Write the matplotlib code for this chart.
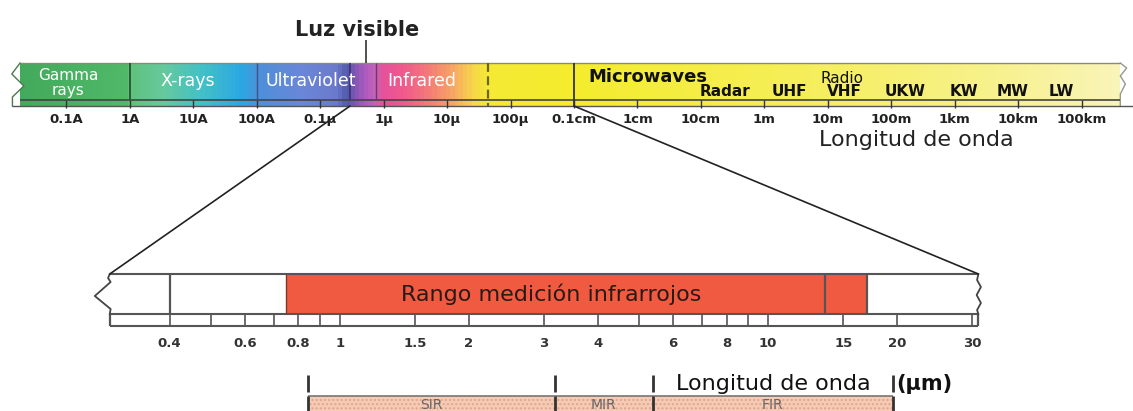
import numpy as np
import matplotlib.pyplot as plt
from matplotlib.colors import LinearSegmentedColormap
from matplotlib.patches import Rectangle, Polygon, ConnectionPatch

plt.rcParams['font.family'] = ['DejaVu Sans']

W, H = 1133, 411

# --- espectro superior: exponente de la longitud de onda (m) ---
top_exp = list(range(-11, 6))
top_labels = ['0.1A', '1A', '1UA', '100A', '0.1µ', '1µ', '10µ', '100µ',
              '0.1cm', '1cm', '10cm', '1m', '10m', '100m', '1km', '10km', '100km']

spec_start, spec_end = -11.73, 5.61
# limites: gamma|X, X|UV, UV|visible, visible|IR, IR (discontinua), microondas
edge_gx, edge_xuv, edge_uvvis, edge_visir, edge_ir, edge_micro = -10.0, -8.0, -6.53, -6.12, -4.36, -3.0

color_stops = [
    (-11.73, '#43a95c'), (-10.1, '#4fb968'), (-10.0, '#5ec27e'), (-9.5, '#66c99c'),
    (-8.9, '#43c1c6'), (-8.25, '#2aa7e2'), (-8.0, '#4d8fd9'), (-7.3, '#6a86d8'),
    (-6.75, '#6b79cc'), (-6.58, '#4f56a8'), (-6.45, '#8556b6'), (-6.28, '#b25abf'),
    (-6.12, '#c466b8'), (-6.05, '#e4509c'), (-5.7, '#f0598c'), (-5.3, '#f47a78'),
    (-4.9, '#f7a862'), (-4.6, '#f7d64a'), (-4.36, '#f5e935'), (-3.0, '#f4ec2c'),
    (0.5, '#f5ee58'), (3.7, '#f7f18e'), (5.61, '#f9f4b8'),
]

white_bands = ['X-rays', 'Ultraviolet', 'Infrared']
white_exp = [-9.08, -7.15, -5.40]
gamma_exp = -10.97
radio_bands = ['Radar', 'UHF', 'VHF', 'UKW', 'KW', 'MW', 'LW']
radio_exp = [-0.62, 0.40, 1.26, 2.22, 3.15, 3.92, 4.68]
micro_exp = -2.78
radio_title_exp = 1.22
luz_exp = -6.28
longitud_top_exp = 2.39

# --- escala inferior (µm) ---
low_ticks = [0.4, 0.5, 0.6, 0.7, 0.8, 0.9, 1, 1.5, 2, 3, 4, 5, 6, 7, 8, 9, 10, 15, 20, 30]
low_labels = [0.4, 0.6, 0.8, 1, 1.5, 2, 3, 4, 6, 8, 10, 15, 20, 30]
low_start, low_end = 0.29, 31.0
white_split = 0.4
ir_start, ir_split, ir_end = 0.75, 13.6, 17.0
rango_x = 3.11

regions = ['SIR', 'MIR', 'FIR']
region_edges = [0.842, 3.18, 5.38, 19.6]

fig = plt.figure(figsize=(W / 100, H / 100), dpi=100)
fig.patch.set_facecolor('white')
ax_top = fig.add_axes([0, 0, 1, 1])
ax_bot = fig.add_axes([0, 0, 1, 1])
for ax in (ax_top, ax_bot):
    ax.set_xscale('log')
    ax.set_ylim(H, 0)
    ax.axis('off')
ax_top.set_xlim(10 ** -12.046, 10 ** 5.810)
ax_bot.set_xlim(10 ** -0.794, 10 ** 1.8526)

# ---------------- barra del espectro ----------------
y_top, y_mid, y_bot = 63, 100, 106
span = spec_end - spec_start
cmap = LinearSegmentedColormap.from_list(
    'spec', [((e - spec_start) / span, c) for e, c in color_stops])
xe = np.linspace(spec_start, spec_end, 900)
cval = ((xe[:-1] + xe[1:]) / 2 - spec_start) / span
mesh = ax_top.pcolormesh(10 ** xe, [y_top, y_bot], cval[np.newaxis, :],
                         cmap=cmap, vmin=0, vmax=1, shading='flat')

zl = [(0.0, y_top), (-0.13, 74), (0.06, 86), (-0.12, 97), (-0.12, y_bot)]
zr = [(0.0, y_bot), (0.0, 94), (0.08, 84), (0.0, 76), (0.1, 68), (0.0, y_top)]
outline = [(10 ** (spec_start + dx), y) for dx, y in zl] + \
          [(10 ** (spec_end + dx), y) for dx, y in zr]
clip = Polygon(outline, closed=True, transform=ax_top.transData,
               facecolor='none', edgecolor='none')
ax_top.add_patch(clip)
mesh.set_clip_path(clip)
ax_top.plot([p[0] for p in outline[:5]], [p[1] for p in outline[:5]], color='#4a7a50', lw=1)
ax_top.plot([p[0] for p in outline[5:]], [p[1] for p in outline[5:]], color='#999988', lw=1)

ax_top.hlines(y_top, 10 ** spec_start, 10 ** spec_end, color='#8a8a7a', lw=1)
ax_top.hlines(y_mid, 10 ** spec_start, 10 ** spec_end, color='#444444', lw=1.2)
ax_top.hlines(y_bot, 10 ** (spec_start - 0.12), 10 ** 5.81, color='#555555', lw=1)

ax_top.vlines(10 ** edge_gx, y_top, y_mid, color='#2e5a36', lw=1.4)
ax_top.vlines(10 ** edge_xuv, y_top, y_mid, color='#3c5488', lw=1)
ax_top.vlines(10 ** edge_uvvis, y_top, y_mid, color='#3b3a7a', lw=1.4)
ax_top.vlines(10 ** edge_visir, y_top, y_mid, color='#6a3a6a', lw=1)
ax_top.vlines(10 ** edge_ir, y_top, y_bot, color='#6b6520', lw=1.6, linestyles=(0, (4, 2)))
ax_top.vlines(10 ** edge_micro, y_top, y_bot, color='#333333', lw=1.3)

ax_top.vlines(10.0 ** np.array(top_exp), y_mid, y_bot + 2, color='#333333', lw=1)
for e, lab in zip(top_exp, top_labels):
    ax_top.text(10.0 ** e, 123, lab, ha='center', va='baseline', fontsize=9.5,
                fontweight='bold', color='#222222')

ax_top.text(10 ** gamma_exp, 80, 'Gamma', ha='center', va='baseline', fontsize=11, color='white')
ax_top.text(10 ** gamma_exp, 95, 'rays', ha='center', va='baseline', fontsize=11, color='white')
for e, lab in zip(white_exp, white_bands):
    ax_top.text(10 ** e, 86, lab, ha='center', va='baseline', fontsize=12.5, color='white')

ax_top.text(10 ** micro_exp, 82, 'Microwaves', ha='left', va='baseline', fontsize=13,
            fontweight='bold', color='#111111')
ax_top.text(10 ** radio_title_exp, 83, 'Radio', ha='center', va='baseline', fontsize=11,
            color='#111111')
for e, lab in zip(radio_exp, radio_bands):
    ax_top.text(10 ** e, 96, lab, ha='center', va='baseline', fontsize=11,
                fontweight='bold', color='#111111')

ax_top.vlines(10 ** luz_exp, 40, y_top, color='#333333', lw=1.2)
ax_top.text(10 ** (luz_exp - 0.14), 36, 'Luz visible', ha='center', va='baseline',
            fontsize=15, fontweight='bold', color='#222222')
ax_top.text(10 ** longitud_top_exp, 146, 'Longitud de onda', ha='center', va='baseline',
            fontsize=16, color='#222222')

# ---------------- barra ampliada (µm) ----------------
b_top, b_mid, b_bot = 274, 314, 326
ax_bot.add_patch(Rectangle((ir_start, b_top), ir_end - ir_start, b_mid - b_top,
                           facecolor='#ef5a40', edgecolor='none'))
ax_bot.hlines([b_top, b_mid, b_bot], low_start, low_end, color='#555555', lw=1.5)
ax_bot.vlines([white_split, ir_split, ir_end], b_top, b_mid, color='#555555', lw=1.6)
ax_bot.vlines(ir_start, b_top, b_mid, color='#7a3a30', lw=1)
ax_bot.vlines([low_start, low_end], b_mid, b_bot, color='#555555', lw=1.6)
ax_bot.vlines(low_ticks, b_mid, b_bot, color='#555555', lw=1.2)

zz_l = [(0.0, b_top), (-0.004, 278), (0.002, 282), (-0.035, 296), (0.002, 309), (0.0, b_mid)]
zz_r = [(0.0, b_top), (-0.003, 280), (0.006, 287), (-0.004, 295), (0.006, 303), (-0.003, 310), (0.0, b_mid)]
ax_bot.plot([low_start * 10 ** dx for dx, y in zz_l], [y for dx, y in zz_l], color='#444444', lw=1.3)
ax_bot.plot([low_end * 10 ** dx for dx, y in zz_r], [y for dx, y in zz_r], color='#444444', lw=1.3)

for v in low_labels:
    ax_bot.text(v, 347, f'{v:g}', ha='center', va='baseline', fontsize=9.5,
                fontweight='bold', color='#333333')

ax_bot.text(rango_x, 294, 'Rango medición infrarrojos', ha='center', va='center',
            fontsize=16, color='#2a1a15')

# conectores (zoom)
for xa, xb in [(10 ** edge_uvvis, low_start), (10 ** edge_micro, low_end)]:
    con = ConnectionPatch(xyA=(xa, y_bot), coordsA=ax_top.transData,
                          xyB=(xb, b_top), coordsB=ax_bot.transData,
                          color='#222222', lw=1.2)
    fig.add_artist(con)

# ---------------- SIR / MIR / FIR ----------------
r_top = 396
for i, name in enumerate(regions):
    x0, x1 = region_edges[i], region_edges[i + 1]
    ax_bot.add_patch(Rectangle((x0, r_top), x1 - x0, 20, facecolor='#f6cbb6',
                               edgecolor='#e0a58c', hatch='....', lw=0))
    ax_bot.text(np.sqrt(x0 * x1), 405, name, ha='center', va='center', fontsize=10,
                color='#666666')
ax_bot.hlines(r_top, region_edges[0], region_edges[-1], color='#777777', lw=1.2)
ax_bot.vlines(region_edges, r_top, H, color='#333333', lw=2)
ax_bot.vlines(region_edges, 375, 392, color='#333333', lw=2)
ax_bot.text(np.sqrt(region_edges[2] * region_edges[3]), 390, 'Longitud de onda',
            ha='center', va='baseline', fontsize=16, color='#111111')
ax_bot.text(region_edges[3] * 1.015, 390, '(µm)', ha='left', va='baseline',
            fontsize=15, fontweight='bold', color='#111111')

fig.savefig('out.png', dpi=100)
